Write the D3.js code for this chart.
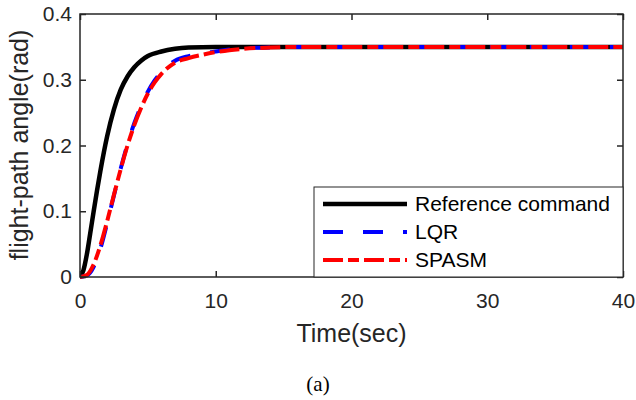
<!DOCTYPE html>
<html>
<head>
<meta charset="utf-8">
<script src="https://cdn.jsdelivr.net/npm/d3@7"></script>
<style>
  html, body { margin: 0; padding: 0; background: #fff; }
  svg { display: block; }
  text { font-family: "Liberation Sans", Arial, Helvetica, sans-serif; }
</style>
</head>
<body>
<svg id="chart" width="636" height="400"></svg>
<script>
// ---- data ----
const timeRef   = [0, 0.25, 0.5, 0.75, 1, 1.25, 1.5, 2, 2.5, 3, 3.5, 4, 4.5, 5, 6, 7, 8, 10, 12, 20, 40];
const refValues = [0, 0.010, 0.034, 0.066, 0.099, 0.131, 0.161, 0.214, 0.255, 0.285, 0.305, 0.319, 0.329, 0.336, 0.343, 0.347, 0.349, 0.350, 0.350, 0.350, 0.350];

const timeCtl    = [0, 0.5, 1, 1.5, 2, 2.5, 3, 3.5, 4, 4.5, 5, 5.5, 6, 7, 8, 9, 10, 11, 12, 14, 16, 20, 40];
const lqrValues  = [0, 0.002, 0.015, 0.043, 0.082, 0.124, 0.165, 0.202, 0.234, 0.260, 0.282, 0.299, 0.312, 0.329, 0.336, 0.340, 0.343, 0.346, 0.348, 0.349, 0.350, 0.350, 0.350];
const spasmValues= [0, 0.003, 0.019, 0.048, 0.085, 0.125, 0.164, 0.200, 0.231, 0.257, 0.279, 0.296, 0.309, 0.326, 0.333, 0.338, 0.342, 0.345, 0.347, 0.349, 0.350, 0.350, 0.350];

const xTicks = [0, 10, 20, 30, 40];
const yTicks = [0, 0.1, 0.2, 0.3, 0.4];
const seriesNames = ["Reference command", "LQR", "SPASM"];
const xLabel = "Time(sec)";
const yLabel = "flight-path angle(rad)";
const caption = "(a)";

// ---- layout ----
const svg = d3.select("#chart");
const L = 80, R = 623, T = 14, B = 277;
const axisColor = "#262626";

const x = d3.scaleLinear().domain([0, 40]).range([L, R]);
const y = d3.scaleLinear().domain([0, 0.4]).range([B, T]);

const series = [
  { name: seriesNames[0], t: timeRef, v: refValues,   color: "#000000", dash: null,        w: 4.5 },
  { name: seriesNames[1], t: timeCtl, v: lqrValues,   color: "#0000ff", dash: "20,20",     w: 4 },
  { name: seriesNames[2], t: timeCtl, v: spasmValues, color: "#ff0000", dash: "20,5,11,5", w: 4 }
];

svg.append("defs").append("clipPath").attr("id", "clip")
  .append("rect").attr("x", L).attr("y", T - 3).attr("width", R - L + 3).attr("height", B - T + 6);

const line = d3.line().curve(d3.curveMonotoneX);
const g = svg.append("g").attr("clip-path", "url(#clip)");
series.forEach(s => {
  g.append("path")
    .attr("d", line(s.t.map((t, i) => [x(t), y(s.v[i])])))
    .attr("fill", "none")
    .attr("stroke", s.color)
    .attr("stroke-width", s.w)
    .attr("stroke-dasharray", s.dash)
    .attr("stroke-linejoin", "round");
});

// axes
const tickLen = 6;
const fmtY = d => d === 0 ? "0" : d3.format(".1f")(d);

const gx = svg.append("g").attr("transform", `translate(0,${B})`)
  .call(d3.axisBottom(x).tickValues(xTicks).tickSize(-tickLen).tickPadding(16).tickFormat(d3.format("d")));
const gxt = svg.append("g").attr("transform", `translate(0,${T})`)
  .call(d3.axisTop(x).tickValues(xTicks).tickSize(-tickLen).tickFormat(""));
const gy = svg.append("g").attr("transform", `translate(${L},0)`)
  .call(d3.axisLeft(y).tickValues(yTicks).tickSize(-tickLen).tickPadding(8).tickFormat(fmtY));
const gyr = svg.append("g").attr("transform", `translate(${R},0)`)
  .call(d3.axisRight(y).tickValues(yTicks).tickSize(-tickLen).tickFormat(""));

[gx, gxt, gy, gyr].forEach(a => {
  a.select(".domain").remove();
  a.selectAll(".tick line").attr("stroke", axisColor).attr("stroke-width", 1.5);
  a.selectAll(".tick text").attr("fill", axisColor).style("font-size", "21px")
    .style("font-family", "'Liberation Sans', Arial, sans-serif");
});
gx.selectAll(".tick text").attr("dy", "0.71em");

svg.append("rect").attr("x", L).attr("y", T).attr("width", R - L).attr("height", B - T)
  .attr("fill", "none").attr("stroke", axisColor).attr("stroke-width", 1.5);

// axis labels
svg.append("text").attr("x", (L + R) / 2).attr("y", 342)
  .attr("text-anchor", "middle").attr("fill", axisColor)
  .style("font-size", "25px").text(xLabel);
svg.append("text").attr("transform", `translate(28,145) rotate(-90)`)
  .attr("text-anchor", "middle").attr("fill", axisColor)
  .style("font-size", "25px").text(yLabel);

// caption
svg.append("text").attr("x", 318).attr("y", 391)
  .attr("text-anchor", "middle").attr("fill", "#000")
  .style("font-family", "'Liberation Serif', 'Times New Roman', serif")
  .style("font-size", "21px").text(caption);

// legend
const lg = svg.append("g");
lg.append("rect").attr("x", 314).attr("y", 187).attr("width", R - 314).attr("height", B - 187)
  .attr("fill", "#fff").attr("stroke", axisColor).attr("stroke-width", 1);
series.forEach((s, i) => {
  const yy = 204 + i * 28;
  lg.append("line").attr("x1", 323).attr("x2", 407).attr("y1", yy).attr("y2", yy)
    .attr("stroke", s.color).attr("stroke-width", s.w).attr("stroke-dasharray", s.dash);
  lg.append("text").attr("x", 415).attr("y", yy).attr("dy", "0.35em")
    .attr("fill", "#000").style("font-size", "21px").text(s.name);
});
</script>
</body>
</html>
